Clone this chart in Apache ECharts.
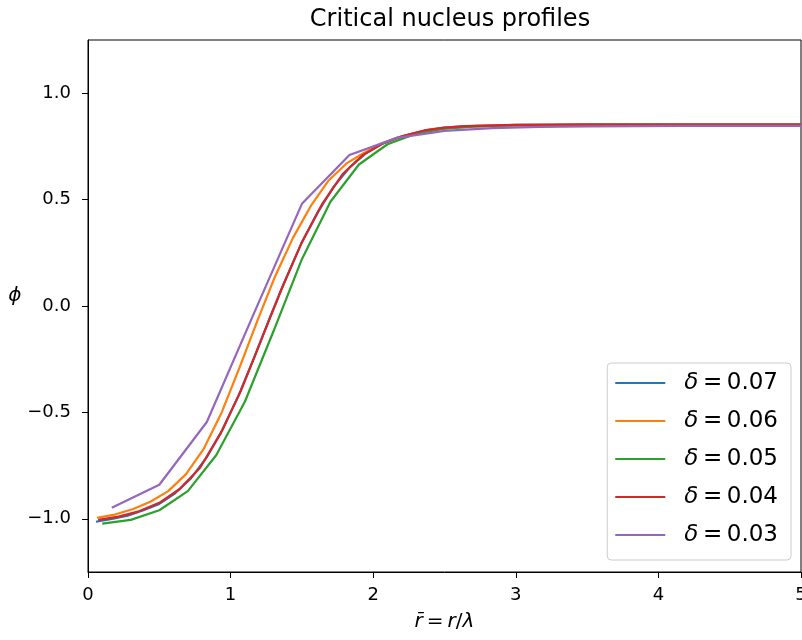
<!DOCTYPE html>
<html>
<head>
<meta charset="utf-8">
<script src="https://cdn.jsdelivr.net/npm/echarts@6/dist/echarts.min.js"></script>
<style>html,body{margin:0;padding:0;background:#fff}#c{width:802px;height:640px}</style>
</head>
<body>
<div id="c"></div>
<script>
const seriesNames = ['δ = 0.07', 'δ = 0.06', 'δ = 0.05', 'δ = 0.04', 'δ = 0.03'];
const xTicks = [0, 1, 2, 3, 4, 5];
const yTicks = [-1.0, -0.5, 0.0, 0.5, 1.0];

const blueX = [0.056,0.167,0.278,0.389,0.5,0.611,0.722,0.833,0.944,1.056,1.167,1.278,1.389,1.5,1.611,1.722,1.833,1.944,2.056,2.167,2.278,2.389,2.5,2.611,2.722,2.833,3.0,3.5,4.0,4.5,5.0];
const blueY = [-1.014,-1.0,-0.985,-0.96,-0.93,-0.88,-0.81,-0.71,-0.58,-0.42,-0.24,-0.05,0.13,0.3,0.44,0.56,0.65,0.715,0.76,0.79,0.81,0.828,0.838,0.843,0.846,0.848,0.851,0.852,0.852,0.852,0.852];

const orangeX = [0.0625,0.1875,0.3125,0.4375,0.5625,0.6875,0.8125,0.9375,1.0625,1.1875,1.3125,1.4375,1.5625,1.6875,1.8125,1.9375,2.0625,2.1875,2.3125,2.4375,2.5625,2.6875,2.8125,3.0,3.5,4.0,4.5,5.0];
const orangeY = [-0.995,-0.98,-0.955,-0.92,-0.87,-0.79,-0.67,-0.5,-0.29,-0.07,0.14,0.32,0.47,0.59,0.67,0.72,0.765,0.795,0.815,0.83,0.838,0.843,0.846,0.85,0.852,0.852,0.852,0.852];

const greenX = [0.1,0.3,0.5,0.7,0.9,1.1,1.3,1.5,1.7,1.9,2.1,2.3,2.5,2.7,2.9,3.1,3.5,4.0,4.5,5.0];
const greenY = [-1.023,-1.005,-0.96,-0.87,-0.70,-0.45,-0.12,0.22,0.49,0.665,0.76,0.81,0.833,0.843,0.847,0.849,0.852,0.852,0.852,0.852];

const redX = [0.071,0.214,0.357,0.5,0.643,0.786,0.929,1.071,1.214,1.357,1.5,1.643,1.786,1.929,2.071,2.214,2.357,2.5,2.643,2.786,3.0,3.5,4.0,4.5,5.0];
const redY = [-1.005,-0.99,-0.965,-0.925,-0.86,-0.76,-0.6,-0.4,-0.16,0.08,0.3,0.48,0.62,0.71,0.765,0.8,0.825,0.838,0.845,0.848,0.851,0.852,0.852,0.852,0.852];

const purpleX = [0.1667,0.5,0.8333,1.1667,1.5,1.8333,2.1667,2.5,2.8333,3.1667,3.5,3.8333,4.1667,4.5,4.8333,5.1667];
const purpleY = [-0.948,-0.84,-0.545,-0.03,0.48,0.71,0.79,0.823,0.836,0.842,0.844,0.845,0.846,0.846,0.846,0.846];

const colors = ['#1f77b4', '#ff7f0e', '#2ca02c', '#d62728', '#9467bd'];
const xs = [blueX, orangeX, greenX, redX, purpleX];
const ys = [blueY, orangeY, greenY, redY, purpleY];

const FONT = 'DejaVu Sans';
const fmtMinus = v => String(v).replace('-', '\u2212');

const chart = echarts.init(document.getElementById('c'), null, {renderer: 'canvas'});
chart.setOption({
  animation: false,
  backgroundColor: '#fff',
  color: colors,
  title: {
    text: 'Critical nucleus profiles',
    left: 445, top: 3, textAlign: 'center',
    textStyle: {fontFamily: FONT, fontSize: 24, fontWeight: 'normal', color: '#000'}
  },
  grid: {left: 88, top: 40, right: 1, bottom: 68, show: true, borderColor: '#000', borderWidth: 1,
    backgroundColor: 'transparent', outerBoundsMode: 'none', containLabel: false},
  legend: {
    orient: 'vertical', right: 11, top: 363,
    padding: [7, 13, 12, 8],
    itemWidth: 50, itemHeight: 2, itemGap: 12,
    icon: 'rect',
    backgroundColor: 'rgba(255,255,255,0.8)',
    borderColor: '#cccccc', borderWidth: 1, borderRadius: 4,
    formatter: name => '{i|δ}\u2009=\u2009' + name.slice(4),
    textStyle: {
      fontFamily: FONT, fontSize: 23, color: '#000', lineHeight: 26, padding: [0, 0, 0, 14],
      rich: {i: {fontFamily: FONT, fontStyle: 'italic', fontSize: 23, color: '#000', lineHeight: 26}}
    },
    data: seriesNames
  },
  xAxis: {
    type: 'value', min: 0, max: 5, interval: 1,
    name: '{i|r\u0304}\u2009=\u2009{i|r}/{i|λ}', nameLocation: 'middle', nameGap: 40,
    nameTextStyle: {fontFamily: FONT, fontSize: 20, color: '#000',
      rich: {i: {fontFamily: FONT, fontStyle: 'italic', fontSize: 20, color: '#000'}}},
    axisLine: {show: true, onZero: false, lineStyle: {color: '#000', width: 1}},
    axisTick: {show: true, inside: false, length: 6, lineStyle: {color: '#000'}},
    axisLabel: {show: true, margin: 14, fontFamily: FONT, fontSize: 18, color: '#000', formatter: v => fmtMinus(v),
      customValues: xTicks},
    splitLine: {show: false}
  },
  yAxis: {
    type: 'value', min: -1.25, max: 1.25,
    name: '\u03D5', nameLocation: 'middle', nameRotate: 0, nameGap: 63,
    nameTextStyle: {fontFamily: FONT, fontStyle: 'italic', fontSize: 20, color: '#000', verticalAlign: 'bottom'},
    axisLine: {show: true, onZero: false, lineStyle: {color: '#000', width: 1}},
    axisTick: {show: true, inside: false, length: 6, lineStyle: {color: '#000'}, customValues: yTicks},
    axisLabel: {show: true, margin: 17, fontFamily: FONT, fontSize: 18, color: '#000',
      customValues: yTicks, formatter: v => fmtMinus(Number(v).toFixed(1))},
    splitLine: {show: false}
  },
  series: seriesNames.map((n, i) => ({
    name: n, type: 'line', showSymbol: false, symbol: 'none',
    lineStyle: {width: 2.2, color: colors[i]}, itemStyle: {color: colors[i]},
    data: xs[i].map((x, j) => [x, ys[i][j]]),
    z: 2 + i
  }))
});
</script>
</body>
</html>
